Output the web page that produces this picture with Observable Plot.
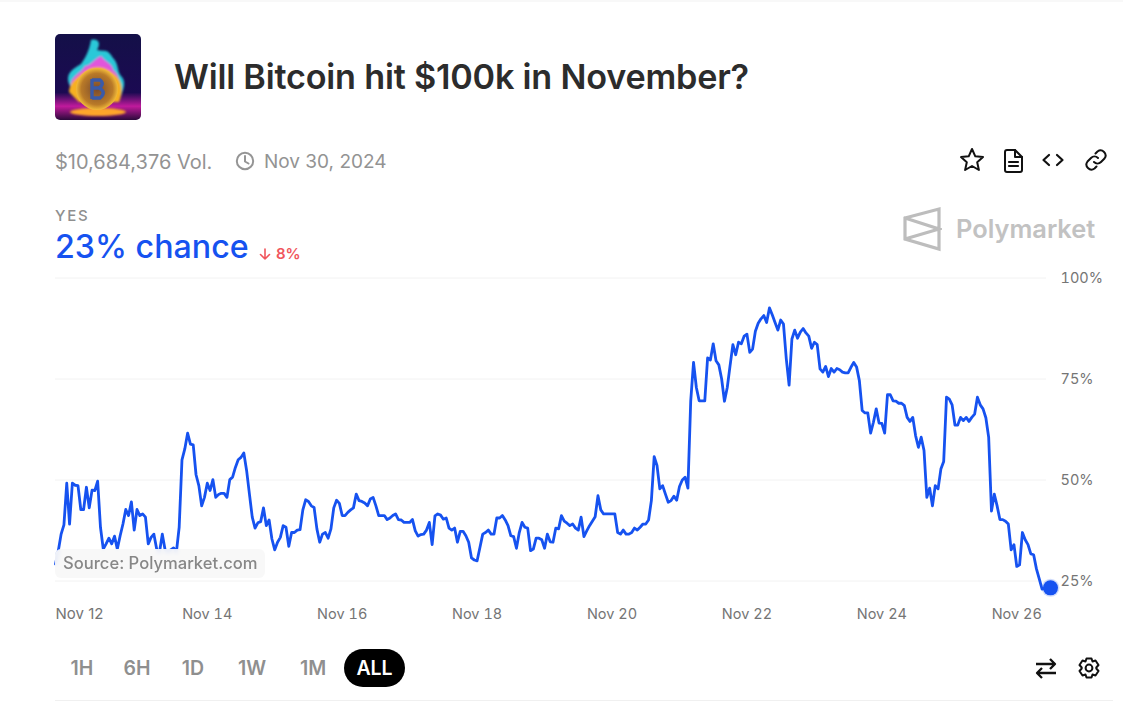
<!DOCTYPE html>
<html lang="en">
<head>
<meta charset="utf-8">
<title>Will Bitcoin hit $100k in November?</title>
<script src="https://cdn.jsdelivr.net/npm/d3@7"></script>
<script src="https://cdn.jsdelivr.net/npm/@observablehq/plot@0.6"></script>
<style>
  html, body { margin: 0; padding: 0; background: #fff; }
  body { width: 1123px; height: 702px; position: relative; overflow: hidden; font-family: Inter, sans-serif; }
  .abs { position: absolute; white-space: nowrap; line-height: 1; }
  svg.icon { position: absolute; fill: none; stroke: #111; stroke-width: 2; stroke-linecap: round; stroke-linejoin: round; }
  #topline { position: absolute; left: 0; top: 0; width: 1123px; height: 2px; background: #f8f8f8; }
  #bottomline { position: absolute; left: 55px; top: 700px; width: 1058px; height: 1px; background: #f0f0f0; }
  #title { left: 174px; top: 60px; font-size: 34.2px; font-weight: 600; color: #2c2c2c; letter-spacing: -0.2px; }
  .meta { top: 152px; color: #939393; }
  #yes { left: 55px; top: 208px; font-size: 15px; font-weight: 500; letter-spacing: 1.8px; color: #8f8f8f; }
  #chance { left: 55px; top: 231px; font-size: 32.2px; font-weight: 500; color: #1652f0; }
  #delta { left: 276px; top: 246px; font-size: 15px; font-weight: 600; color: #f0555c; }
  #brand { left: 956px; top: 216px; font-size: 25.4px; font-weight: 600; color: #c2c2c2; }
  #graphic { position: absolute; left: 0; top: 270px; }
  #source { position: absolute; left: 55px; top: 549px; width: 210px; height: 29px; border-radius: 6px;
    background: rgba(247,247,247,.93); backdrop-filter: blur(2px); }
  #source span { position: absolute; left: 8px; top: 6px; font-size: 16.6px; font-weight: 500; color: #878787; line-height: 1; white-space: nowrap; }
  .range { top: 659px; font-size: 19.5px; font-weight: 600; color: #8f8f8f; transform: translateX(-50%); }
  #allpill { position: absolute; left: 344px; top: 649px; width: 61px; height: 38px; border-radius: 19px; background: #000; }
  #all { left: 374.5px; color: #fff; }
</style>
</head>
<body>
  <div id="topline"></div>

  <svg style="position:absolute;left:55px;top:34px" width="86" height="86" viewBox="0 0 86 86">
    <defs>
      <clipPath id="logoClip"><rect width="86" height="86" rx="5"/></clipPath>
      <linearGradient id="logoBg" x1="0" y1="0" x2="0" y2="1">
        <stop offset="0" stop-color="#141048"/><stop offset=".68" stop-color="#1b0a52"/>
        <stop offset=".84" stop-color="#c01a9c"/><stop offset="1" stop-color="#2a0a3a"/>
      </linearGradient>
      <radialGradient id="coin" cx=".5" cy=".5" r=".5">
        <stop offset="0" stop-color="#7a4a2c"/><stop offset=".75" stop-color="#b97a28"/><stop offset="1" stop-color="#f2bb3a"/>
      </radialGradient>
      <filter id="soft"><feGaussianBlur stdDeviation="1.2"/></filter>
    </defs>
    <g clip-path="url(#logoClip)">
      <rect width="86" height="86" fill="url(#logoBg)"/>
      <g filter="url(#soft)">
        <path d="M14 50C10 38 20 34 26 30C30 24 34 18 36 6C44 4 46 10 42 16C50 18 52 14 58 24C64 30 62 38 66 42C72 48 68 56 66 62H20Z" fill="#2cc8d8"/>
        <path d="M16 54C14 42 26 40 30 32C36 32 40 24 46 22C50 28 58 30 58 36C64 40 66 50 64 60H22Z" fill="#e254dc"/>
        <path d="M14 58C14 48 24 42 32 36C38 32 50 32 56 38C66 44 70 54 64 68H24Z" fill="#f6b020"/>
        <ellipse cx="43" cy="78" rx="28" ry="4" fill="#ffa62a"/>
      </g>
      <circle cx="42" cy="55" r="21" fill="url(#coin)"/>
      <path d="M37 45V65M37 46H45Q50 50 44 54H37M44 54Q52 58 45 64H37" fill="none" stroke="#3a5aa8" stroke-width="3.4"/>
    </g>
  </svg>

  <div id="title" class="abs">Will Bitcoin hit $100k in November?</div>

  <div class="abs meta" style="left:55px;font-size:20px">$10,684,376 Vol.</div>
  <svg class="icon" style="left:235px;top:151px;stroke:#959595" width="20" height="20" viewBox="0 0 20 20">
    <circle cx="10" cy="10" r="8.2"/><path d="M10 5V10.5L13.5 12.5"/>
  </svg>
  <div class="abs meta" style="left:264px;font-size:19px">Nov 30, 2024</div>

  <svg class="icon" style="left:958px;top:146px" width="28" height="28" viewBox="0 0 28 28">
    <path d="M14 3L17.3 10.3L25 11.1L19.2 16.3L20.9 24L14 20L7.1 24L8.8 16.3L3 11.1L10.7 10.3Z"/>
  </svg>
  <svg class="icon" style="left:1002px;top:148px" width="22" height="26" viewBox="0 0 22 26">
    <path d="M3 4Q3 2 5 2H13L20 9V22Q20 24 18 24H5Q3 24 3 22Z"/><path d="M13 2V9H20"/><path d="M7 14H16M7 18H16" stroke-width="2.2"/>
  </svg>
  <svg class="icon" style="left:1041px;top:150px" width="24" height="20" viewBox="0 0 24 20">
    <path d="M8 5L2.5 10L8 15M16 5L21.5 10L16 15" stroke-width="2.2"/>
  </svg>
  <svg class="icon" style="left:1084px;top:148px" width="24" height="24" viewBox="0 0 24 24">
    <path d="M10 14A5 5 0 0 0 17 14L20.5 10.5A5 5 0 0 0 13.5 3.5L11.5 5.5"/>
    <path d="M14 10A5 5 0 0 0 7 10L3.5 13.5A5 5 0 0 0 10.5 20.5L12.5 18.5"/>
  </svg>

  <div id="yes" class="abs">YES</div>
  <div id="chance" class="abs">23% chance</div>
  <svg class="icon" style="left:258px;top:247px;stroke:#f0555c" width="14" height="14" viewBox="0 0 14 14">
    <path d="M7 2V12M2.5 7.5L7 12L11.5 7.5" stroke-width="1.6"/>
  </svg>
  <div id="delta" class="abs">8%</div>

  <svg class="icon" style="left:902px;top:206px;stroke:#bdbdbd" width="40" height="46" viewBox="0 0 40 46">
    <path d="M3 12L37 3V43L3 33ZM3 12L37 23L3 33" stroke-width="3.2" stroke-linejoin="miter"/>
  </svg>
  <div id="brand" class="abs">Polymarket</div>

  <div id="graphic"></div>
  <div id="source"><span>Source: Polymarket.com</span></div>

  <div class="abs range" style="left:82px">1H</div>
  <div class="abs range" style="left:137px">6H</div>
  <div class="abs range" style="left:193px">1D</div>
  <div class="abs range" style="left:252px">1W</div>
  <div class="abs range" style="left:313px">1M</div>
  <div id="allpill"></div>
  <div id="all" class="abs range" style="color:#fff">ALL</div>

  <svg class="icon" style="left:1034px;top:656px" width="24" height="24" viewBox="0 0 24 24">
    <path d="M2 8H21M16 3L21 8L16 13" stroke-width="2.3" stroke-linecap="butt"/>
    <path d="M22 17H3M8 12L3 17L8 22" stroke-width="2.3" stroke-linecap="butt"/>
  </svg>
  <svg class="icon" style="left:1077px;top:656px" width="24" height="24" viewBox="0 0 24 24">
    <path d="M9.5 2.5H14.5L15.5 5.5L18.5 4.5L21.5 9L19.3 11.5V12.5L21.5 15L18.5 19.5L15.5 18.5L14.5 21.5H9.5L8.5 18.5L5.5 19.5L2.5 15L4.7 12.5V11.5L2.5 9L5.5 4.5L8.5 5.5Z"/>
    <circle cx="12" cy="12" r="3.4"/>
  </svg>

  <div id="bottomline"></div>

<script>
  const startTime = new Date("2024-11-11T18:00:00Z");
  const endTime = new Date("2024-11-26T12:00:00Z");
  const gridEnd = new Date("2024-11-26T10:35:00Z");

  // YES price in percent, one reading per hour from startTime
  const yesPct = [
    29.2, 32.5, 36.6, 38.9, 49.2, 39.1, 49.2, 48.7, 48.6, 42.7, 42.7, 48.2, 43.1, 47.5, 47.4, 49.7, 38.3, 32.9, 34.2, 35.6,
    34.2, 36.1, 32.9, 36.2, 39.1, 42.7, 41.2, 44.6, 37.6, 42.7, 41.2, 41.6, 40.8, 34.2, 35.8, 36.6, 32.9, 32.1, 36.6, 32.7,
    32.1, 32.7, 33.2, 32.1, 38.3, 55.0, 57.7, 61.6, 58.9, 58.7, 51.3, 48.6, 43.6, 45.7, 49.2, 47.4, 50.1, 45.7, 46.4, 46.7,
    46.7, 45.7, 50.1, 50.7, 53.1, 55.0, 55.6, 56.7, 52.3, 46.5, 40.8, 38.1, 39.4, 39.7, 43.1, 38.7, 40.1, 35.4, 32.7, 34.6,
    35.8, 38.7, 38.3, 33.6, 37.0, 37.0, 37.6, 37.7, 42.6, 45.1, 44.7, 43.6, 43.2, 37.9, 34.6, 36.6, 37.0, 35.6, 37.9, 43.1,
    45.0, 44.2, 41.2, 41.2, 42.0, 42.6, 43.1, 46.5, 44.9, 44.7, 44.3, 43.6, 45.3, 45.7, 43.6, 41.2, 41.2, 41.2, 40.2, 40.6,
    41.2, 41.6, 40.2, 40.1, 39.5, 39.5, 39.5, 40.2, 37.4, 36.1, 36.5, 36.6, 37.6, 39.5, 34.0, 41.1, 41.6, 41.3, 40.3, 40.6,
    38.1, 37.6, 38.1, 34.6, 37.3, 37.3, 36.2, 34.6, 30.7, 30.2, 30.0, 33.3, 36.6, 37.0, 37.6, 36.6, 36.6, 40.6, 40.6, 41.2,
    40.1, 38.7, 36.2, 36.0, 33.1, 37.0, 39.5, 38.3, 38.1, 32.5, 32.9, 35.6, 35.6, 35.2, 33.1, 36.6, 34.7, 34.6, 38.1, 37.9,
    41.2, 39.8, 39.3, 38.7, 39.1, 38.1, 37.6, 40.8, 36.0, 37.4, 38.7, 39.8, 40.9, 46.1, 42.6, 41.6, 41.6, 41.6, 41.6, 41.6,
    37.0, 36.6, 37.6, 36.6, 36.6, 37.0, 38.1, 37.6, 38.3, 39.1, 39.1, 40.1, 44.9, 55.8, 53.6, 47.8, 48.6, 46.5, 44.5, 44.9,
    46.0, 45.0, 48.4, 50.0, 50.7, 48.0, 69.6, 79.1, 72.9, 69.6, 69.6, 69.6, 80.2, 79.7, 83.7, 79.5, 78.5, 75.0, 69.5, 72.9,
    78.3, 83.5, 81.0, 84.1, 83.7, 85.6, 86.1, 81.6, 82.4, 86.8, 88.8, 89.9, 90.7, 89.0, 92.6, 90.9, 89.0, 87.1, 89.6, 88.6,
    80.0, 73.5, 84.9, 87.1, 85.1, 86.6, 87.5, 86.4, 85.6, 82.6, 84.1, 83.5, 77.5, 76.7, 78.1, 75.6, 77.6, 76.7, 77.6, 77.3,
    76.7, 76.5, 76.5, 77.9, 79.1, 78.0, 74.6, 67.2, 66.6, 66.6, 61.6, 64.3, 67.6, 64.1, 64.0, 61.6, 71.1, 71.1, 69.6, 69.5,
    69.0, 69.0, 68.4, 65.5, 64.5, 65.5, 61.0, 58.1, 60.6, 57.3, 45.7, 48.0, 43.6, 48.6, 47.8, 52.7, 54.6, 70.5, 70.0, 68.6,
    63.6, 63.6, 65.5, 64.7, 65.5, 64.5, 65.5, 66.3, 70.5, 68.6, 67.6, 65.4, 60.6, 42.3, 46.5, 43.6, 40.2, 40.2, 39.8, 39.1,
    32.7, 34.0, 28.6, 29.0, 37.0, 35.2, 34.0, 31.7, 31.5, 28.0, 25.5, 23.0, 23.2, 23.3, 23.3
  ];

  const yTicks = [25, 50, 75, 100];
  const xTickDates = ["2024-11-14", "2024-11-16", "2024-11-18", "2024-11-20", "2024-11-22", "2024-11-24", "2024-11-26"].map(d => new Date(d + "T00:00:00Z"));
  const firstLabel = "Nov 12";

  const series = yesPct.map((v, i) => ({time: d3.utcHour.offset(startTime, i), pct: v}));
  const last = series[series.length - 1];

  const chart = Plot.plot({
    width: 1123,
    height: 360,
    marginLeft: 55,
    marginRight: 73,
    marginTop: 7.5,
    marginBottom: 49.5,
    style: {fontFamily: "Inter, sans-serif", fontSize: "14.5px", color: "#757575", background: "transparent", overflow: "visible"},
    x: {type: "utc", domain: [startTime, endTime]},
    y: {domain: [25, 100]},
    marks: [
      Plot.ruleY(yTicks, {x1: () => startTime, x2: () => gridEnd, stroke: "#f2f2f2", strokeWidth: 1}),
      Plot.axisX({ticks: xTickDates, tickSize: 0, tickPadding: 28, tickFormat: d3.utcFormat("%b %-d"), label: null}),
      Plot.text([firstLabel], {x: () => startTime, frameAnchor: "bottom", textAnchor: "start", dy: 38, fontSize: 15, fill: "#757575"}),
      Plot.axisY({anchor: "right", ticks: yTicks, tickSize: 0, tickPadding: 10, tickFormat: d => d + "%", label: null}),
      Plot.line(series, {x: "time", y: "pct", stroke: "#1652f0", strokeWidth: 2.8}),
      Plot.dot([last], {x: "time", y: "pct", r: 9, fill: "#1652f0", fillOpacity: 0.2}),
      Plot.dot([last], {x: "time", y: "pct", r: 7.5, fill: "#1652f0"})
    ]
  });
  document.getElementById("graphic").appendChild(chart);
</script>
</body>
</html>
